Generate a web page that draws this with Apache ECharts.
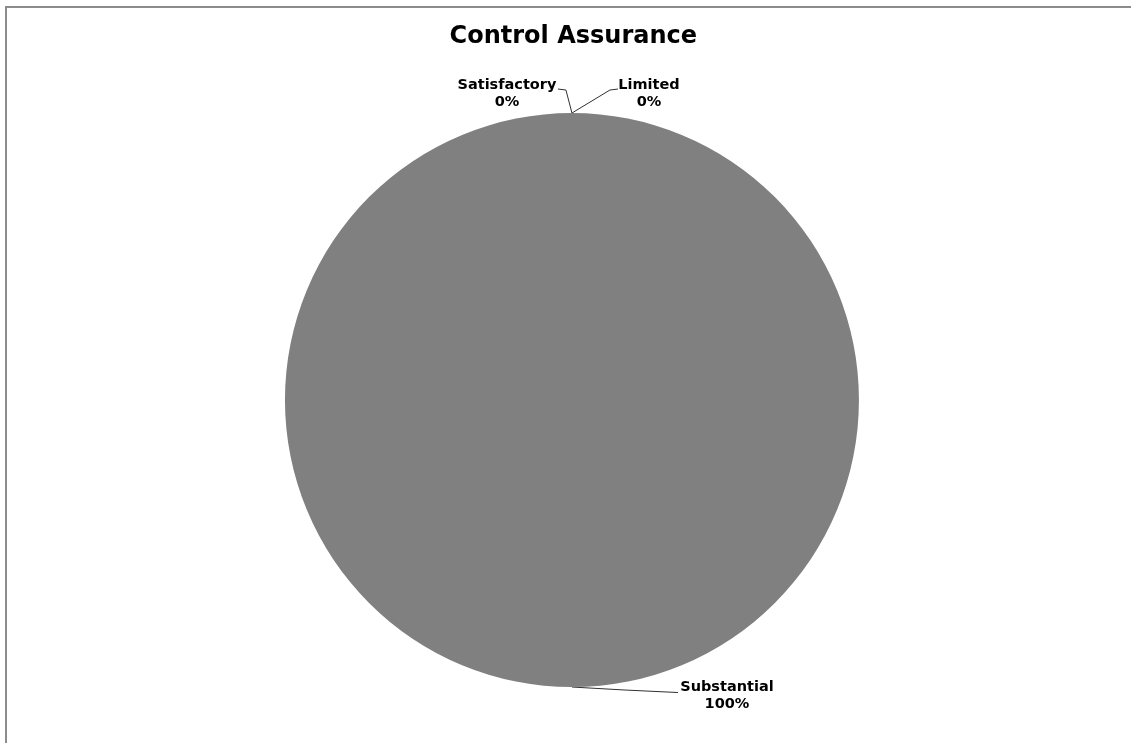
<!DOCTYPE html>
<html>
<head>
<meta charset="utf-8">
<script src="https://cdn.jsdelivr.net/npm/echarts@6/dist/echarts.min.js"></script>
<style>
html,body{margin:0;padding:0;background:#fff;overflow:hidden;}
#frame{position:absolute;left:5px;top:6px;width:1300px;height:900px;border-left:2px solid #8c8c8c;border-top:2px solid #8c8c8c;}
#chart{position:absolute;left:0;top:0;width:1131px;height:743px;}
</style>
</head>
<body>
<div id="frame"></div>
<div id="chart"></div>
<script>
// ---- data ----
const titleText = 'Control Assurance';
const categories = ['Limited', 'Substantial', 'Satisfactory'];
const values = [0, 100, 0];

// ---- label placement (offsets from the slice's own label anchor, styling only) ----
const labelPlacement = {
  'Limited':      { dx: 77,  dy: -19, line: [[38, -23], [46, -24]] },
  'Satisfactory': { dx: -65, dy: -19, line: [[-6, -23], [-14, -24]] },
  'Substantial':  { dx: 155, dy: 9,   line: [[53, 3], [106, 5.5]] }
};

const chart = echarts.init(document.getElementById('chart'), null, { renderer: 'canvas' });

const seriesData = categories.map((c, i) => ({ name: c, value: values[i] }));

chart.setOption({
  backgroundColor: 'transparent',
  animation: false,
  title: {
    text: titleText,
    left: '50.25%',
    textAlign: 'center',
    top: 20,
    textStyle: {
      fontFamily: 'DejaVu Sans',
      fontWeight: 'bold',
      fontSize: 24,
      color: '#000'
    }
  },
  series: [{
    type: 'pie',
    center: ['50.57%', '53.84%'],
    radius: 287,
    startAngle: 90,
    clockwise: true,
    avoidLabelOverlap: false,
    silent: true,
    emphasis: { disabled: true },
    itemStyle: { color: '#808080', borderWidth: 0 },
    label: {
      show: true,
      position: 'outside',
      formatter: '{b}\n{d}%',
      fontFamily: 'DejaVu Sans',
      fontWeight: 'bold',
      fontSize: 14.5,
      lineHeight: 17,
      color: '#000'
    },
    labelLine: {
      show: true,
      length: 20,
      length2: 10,
      lineStyle: { color: '#303030', width: 1 }
    },
    labelLayout: function (params) {
      const name = categories[params.dataIndex];
      const p = labelPlacement[name];
      const pts = params.labelLinePoints;
      if (!p || !pts) return {};
      const a = pts[0];
      return {
        x: a[0] + p.dx,
        y: a[1] + p.dy,
        align: 'center',
        verticalAlign: 'middle',
        labelLinePoints: [a].concat(p.line.map(o => [a[0] + o[0], a[1] + o[1]]))
      };
    },
    data: seriesData
  }]
});
</script>
</body>
</html>
